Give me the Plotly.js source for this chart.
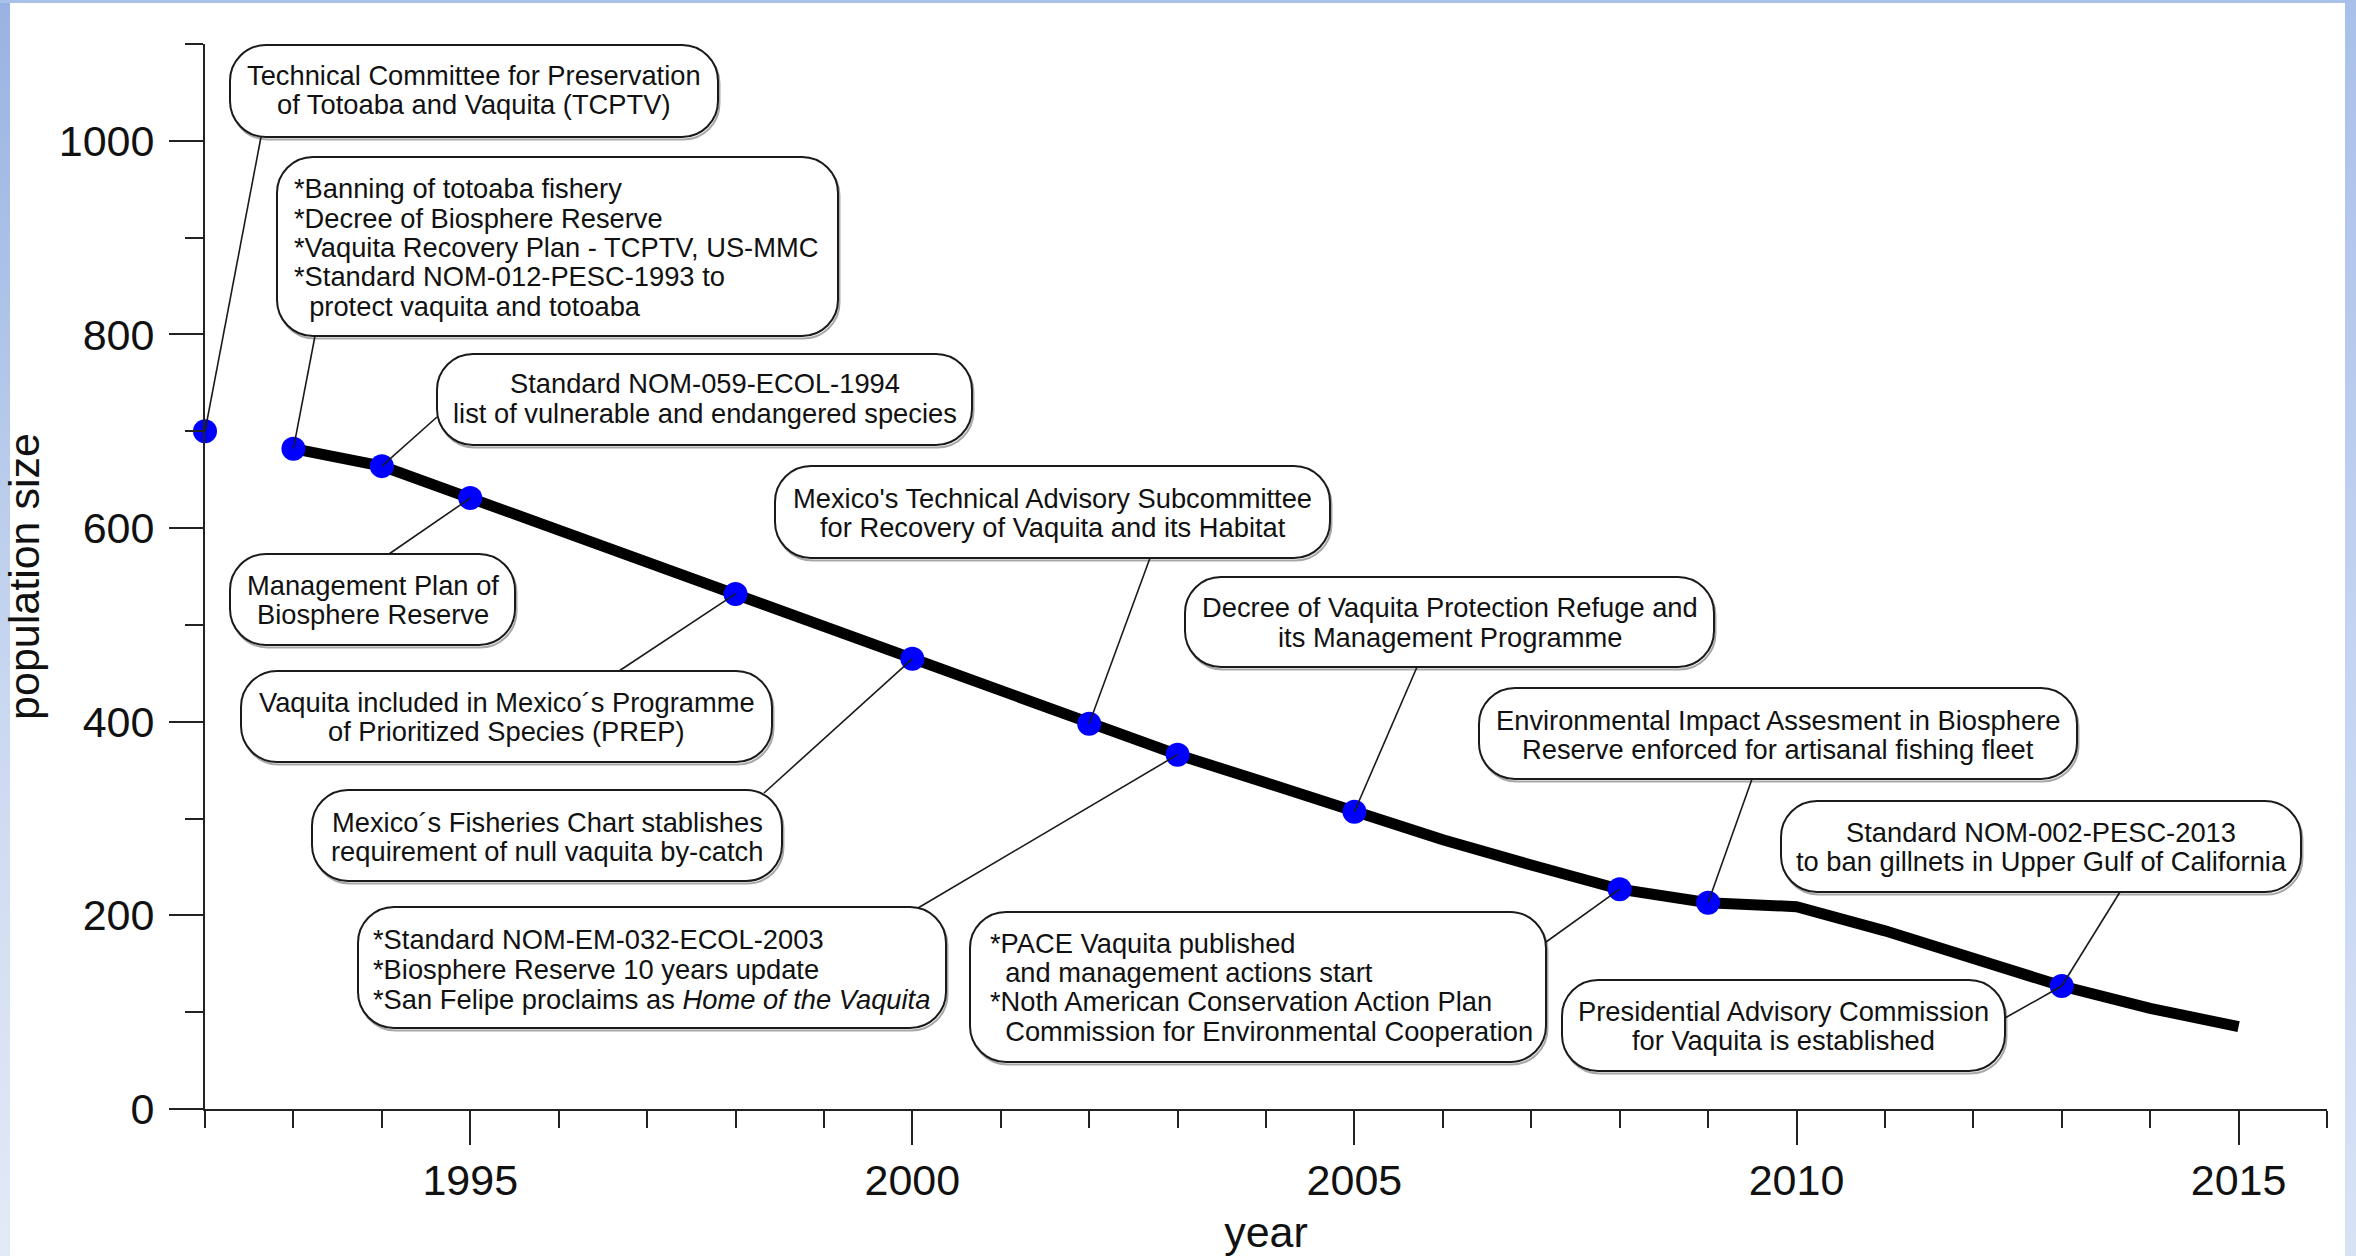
<!DOCTYPE html>
<html>
<head>
<meta charset="utf-8">
<script src="https://cdn.plot.ly/plotly-3.0.1.min.js"></script>
<style>
html,body{margin:0;padding:0;background:#fff;overflow:hidden;}
#wrap{position:relative;width:2356px;height:1256px;background:#fff;}
#chart{position:absolute;left:0;top:0;width:2356px;height:1256px;}
.strip{position:absolute;}
#sl{left:0;top:0;width:10px;height:1256px;background:linear-gradient(#98b3e2,#c9d7f0 55%,#e3eaf7);}
#sr{right:0;top:0;width:11px;height:1256px;background:linear-gradient(#a9c0ea,#c3d3f1 50%,#d7e2f5);}
#st{left:0;top:0;width:2356px;height:3px;background:#a9c0e9;}
</style>
</head>
<body>
<div id="wrap">
<div class="strip" id="sl"></div>
<div class="strip" id="sr"></div>
<div class="strip" id="st"></div>
<div id="chart"></div>
</div>
<script>
// ---- data ----
const lineYears = [1993,1994,1995,1996,1997,1998,1999,2000,2001,2002,2003,2004,2005,2006,2007,2008,2009,2010,2011,2012,2013,2014,2015];
const linePop   = [682, 664, 631, 598, 565, 532, 498, 465, 431, 398, 366, 337, 307, 278, 252, 227, 213, 209, 184, 156, 127, 104, 85];
const eventYears = [1992,1993,1994,1995,1998,2000,2002,2003,2005,2008,2009,2013];
const eventPop   = [700, 682, 664, 631, 532, 465, 398, 366, 307, 227, 213, 127];
const xTickLabels = ["1995","2000","2005","2010","2015"];
const yTickLabels = ["0","200","400","600","800","1000"];

// ---- layout geometry (pixels) ----
const W_ = 2356, H_ = 1256;
const mL = 205, mR = 29, mT = 44, mB = 147;
const PW = W_ - mL - mR, PH = H_ - mT - mB;
const xRange = [1992, 2016], yRange = [0, 1100];
const px2x = p => xRange[0] + (p - mL) / PW * (xRange[1] - xRange[0]);
const py2y = p => yRange[0] + (mT + PH - p) / PH * (yRange[1] - yRange[0]);
const px2p = p => (p - mL) / PW;
const py2p = p => (mT + PH - p) / PH;

// callout boxes: box [x0,y0,x1,y1] px, text lines, line centres, event year, attachment point
const boxes = [
  {b:[230,45,718,137], al:'c', lines:["Technical Committee for Preservation","of Totoaba and Vaquita (TCPTV)"], ly:[75,104], ev:1992, at:[261,137]},
  {b:[277,157,838,336], al:'l', tx:292, lines:["*Banning of totoaba fishery","*Decree of Biosphere Reserve","*Vaquita Recovery Plan - TCPTV, US-MMC","*Standard NOM-012-PESC-1993 to","\u00a0\u00a0protect vaquita and totoaba"], ly:[189,218,247,276,306], ev:1993, at:[315,336]},
  {b:[437,354,972,445], al:'c', lines:["Standard NOM-059-ECOL-1994","list of vulnerable and endangered species"], ly:[384,413], ev:1994, at:[437,417]},
  {b:[230,554,515,645], al:'c', lines:["Management Plan of","Biosphere Reserve"], ly:[585,614], ev:1995, at:[389,554]},
  {b:[241,671,772,762], al:'c', lines:["Vaquita included in Mexico\u00b4s Programme","of Prioritized Species (PREP)"], ly:[702,731], ev:1998, at:[619,671]},
  {b:[312,790,782,881], al:'c', lines:["Mexico\u00b4s Fisheries Chart stablishes","requirement of null vaquita by-catch"], ly:[822,851], ev:2000, at:[764,793]},
  {b:[358,907,946,1028], al:'l', tx:371, lines:["*Standard NOM-EM-032-ECOL-2003","*Biosphere Reserve 10 years update","*San Felipe proclaims as <i>Home of the Vaquita</i>"], ly:[939,969,999], ev:2003, at:[918,908]},
  {b:[970,912,1546,1062], al:'l', tx:988, lines:["*PACE Vaquita published","\u00a0\u00a0and management actions start","*Noth American Conservation Action Plan","\u00a0\u00a0Commission for Environmental Cooperation"], ly:[943,972,1001,1031], ev:2008, at:[1546,942]},
  {b:[1562,980,2005,1071], al:'c', lines:["Presidential Advisory Commission","for Vaquita is established"], ly:[1011,1040], ev:2013, at:[2005,1018]},
  {b:[775,466,1330,558], al:'c', lines:["Mexico's Technical Advisory Subcommittee","for Recovery of Vaquita and its Habitat"], ly:[498,527], ev:2002, at:[1150,558]},
  {b:[1185,577,1714,667], al:'c', lines:["Decree of Vaquita Protection Refuge and","its Management Programme"], ly:[607,637], ev:2005, at:[1417,667]},
  {b:[1479,688,2077,779], al:'c', lines:["Environmental Impact Assesment in Biosphere","Reserve enforced for artisanal fishing fleet"], ly:[720,749], ev:2009, at:[1752,779]},
  {b:[1781,801,2301,892], al:'c', lines:["Standard NOM-002-PESC-2013","to ban gillnets in Upper Gulf of California"], ly:[832,861], ev:2013, at:[2120,892]}
];

function roundRect(x0,y0,x1,y1,r,dx,dy){
  x0+=dx; x1+=dx; y0+=dy; y1+=dy;
  const c = 0.5523*r;
  const P = (x,y) => px2p(x).toFixed(5)+','+py2p(y).toFixed(5);
  return 'M'+P(x0+r,y0)+' L'+P(x1-r,y0)+
    ' C'+P(x1-r+c,y0)+' '+P(x1,y0+r-c)+' '+P(x1,y0+r)+
    ' L'+P(x1,y1-r)+
    ' C'+P(x1,y1-r+c)+' '+P(x1-r+c,y1)+' '+P(x1-r,y1)+
    ' L'+P(x0+r,y1)+
    ' C'+P(x0+r-c,y1)+' '+P(x0,y1-r+c)+' '+P(x0,y1-r)+
    ' L'+P(x0,y0+r)+
    ' C'+P(x0,y0+r-c)+' '+P(x0+r-c,y0)+' '+P(x0+r,y0)+' Z';
}

const shapes = [];
const annotations = [];
const FONT = 'Liberation Sans, Arial, sans-serif';
boxes.forEach(bx => {
  const [x0,y0,x1,y1] = bx.b;
  const r = Math.min(36, (y1-y0)/2 - 2);
  shapes.push({type:'path', xref:'paper', yref:'paper', layer:'above', path:roundRect(x0,y0,x1,y1,r,1.5,2.5), line:{color:'#a8a8a8', width:2}, fillcolor:'rgba(0,0,0,0)'});
  shapes.push({type:'path', xref:'paper', yref:'paper', layer:'above', path:roundRect(x0,y0,x1,y1,r,0,0), line:{color:'#1a1a1a', width:2}, fillcolor:'#ffffff'});
  const i = eventYears.indexOf(bx.ev);
  shapes.push({type:'line', xref:'x', yref:'y', layer:'above', x0:eventYears[i], y0:eventPop[i], x1:px2x(bx.at[0]), y1:py2y(bx.at[1]), line:{color:'#1a1a1a', width:1.6}});
  bx.lines.forEach((t,k) => {
    annotations.push({
      xref:'paper', yref:'paper', showarrow:false,
      x: bx.al==='c' ? px2p((x0+x1)/2) : px2p(bx.tx),
      xanchor: bx.al==='c' ? 'center' : 'left',
      y: py2p(bx.ly[k]), yanchor:'middle',
      text:t, font:{family:FONT, size:27.3, color:'#111'}
    });
  });
});

const traces = [
  {type:'scatter', mode:'lines', x:lineYears, y:linePop, line:{color:'#000', width:11, shape:'linear'}, hoverinfo:'skip', showlegend:false},
  {type:'scatter', mode:'markers', x:eventYears, y:eventPop, cliponaxis:false, marker:{color:'#0000ff', size:24, line:{width:0}}, hoverinfo:'skip', showlegend:false}
];

const axisCommon = {
  showline:true, linecolor:'#222', linewidth:2, mirror:false,
  ticks:'outside', tickcolor:'#222', tickwidth:2, ticklen:34,
  showgrid:false, zeroline:false,
  tickfont:{family:FONT, size:43, color:'#111'},
  fixedrange:true
};

const layout = {
  width:W_, height:H_,
  margin:{l:mL, r:mR, t:mT, b:mB, pad:0},
  paper_bgcolor:'rgba(0,0,0,0)', plot_bgcolor:'#fff',
  showlegend:false,
  xaxis: Object.assign({}, axisCommon, {
    range:xRange, tickmode:'array', tickvals:xTickLabels.map(Number), ticktext:xTickLabels,
    ticklabelstandoff:-2,
    minor:{dtick:1, tick0:1992, ticks:'outside', ticklen:17, tickwidth:2, tickcolor:'#222', showgrid:false},
    title:{text:'year', font:{family:FONT, size:43, color:'#111'}, standoff:16}
  }),
  yaxis: Object.assign({}, axisCommon, {
    range:yRange, tickmode:'array', tickvals:yTickLabels.map(Number), ticktext:yTickLabels,
    ticklabelstandoff:6,
    minor:{dtick:100, tick0:0, ticks:'outside', ticklen:18, tickwidth:2, tickcolor:'#222', showgrid:false},
    title:{text:'population size', font:{family:FONT, size:43, color:'#111'}, standoff:6}
  }),
  shapes:shapes,
  annotations:annotations
};

Plotly.newPlot('chart', traces, layout, {displayModeBar:false, staticPlot:true});
</script>
</body>
</html>
